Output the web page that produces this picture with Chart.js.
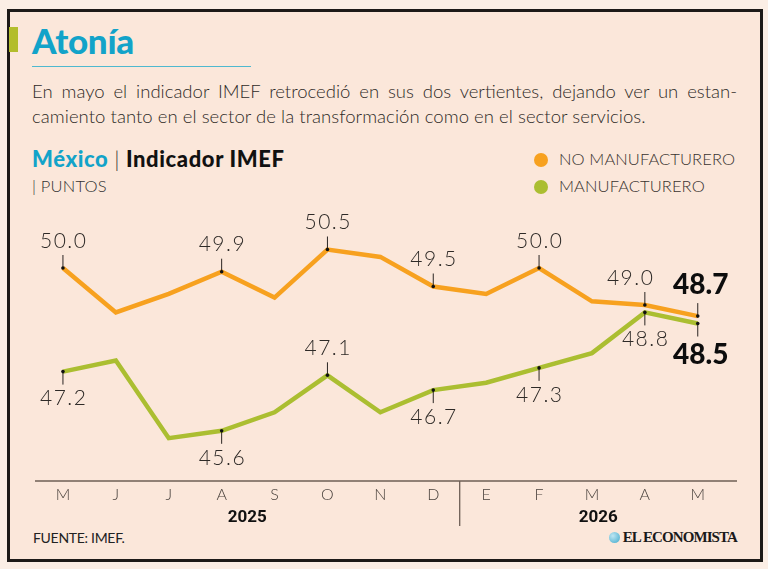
<!DOCTYPE html>
<html><head><meta charset="utf-8">
<script src="https://cdn.jsdelivr.net/npm/chart.js@4.4.1/dist/chart.umd.min.js"></script>
<style>
html,body{margin:0;padding:0;background:#fbeee5;width:768px;height:569px;overflow:hidden;}
#frame{position:absolute;left:7px;top:9px;width:750px;height:547px;border:3px solid #1d1a18;background:#fbe7da;}
.t{position:absolute;font-family:"Lato","Noto Sans",sans-serif;white-space:nowrap;}
#bar{position:absolute;left:9px;top:27px;width:9px;height:25px;background:#b3bd2c;}
#title{left:32px;top:19px;font-size:35px;font-weight:900;color:#12a3c9;letter-spacing:-0.3px;}
#uline{position:absolute;left:32px;top:66px;width:219px;height:1px;background:#4fb9cf;}
#sub1{left:32px;top:80px;width:705px;font-size:18.5px;font-weight:300;color:#2e2a27;text-align:justify;text-align-last:justify;}
#sub2{left:32px;top:105px;font-size:18.5px;font-weight:300;color:#2e2a27;letter-spacing:0.05px;}
#head{left:32px;top:145px;font-size:22px;font-weight:900;color:#111;letter-spacing:0.6px;}
#head .c{color:#12a3c9;}
#head .p{font-weight:300;color:#333;}
#unit{left:32px;top:176px;font-size:16.5px;font-weight:300;color:#333;letter-spacing:0.2px;}
.lg{font-size:16.5px;font-weight:300;color:#3a3430;left:559px;letter-spacing:0.1px;}
.dot{position:absolute;width:14px;height:14px;border-radius:50%;left:534px;}
#src{left:33px;top:529px;font-size:14px;font-weight:400;color:#222;letter-spacing:-0.3px;}
#logo{position:absolute;right:31px;top:529px;font-family:"Liberation Serif","DejaVu Serif",serif;font-weight:bold;font-size:15px;color:#1a1a1a;letter-spacing:-0.9px;white-space:nowrap;}
#globe{display:inline-block;width:11px;height:11px;border-radius:50%;background:radial-gradient(circle at 35% 35%,#bfe6f2,#3fa9cc);margin-right:3px;vertical-align:-1px;}
canvas{position:absolute;left:0;top:0;}
</style></head>
<body>
<div id="frame"></div>
<div id="bar"></div>
<div class="t" id="title">Atonía</div>
<div id="uline"></div>
<div class="t" id="sub1">En mayo el indicador IMEF retrocedió en sus dos vertientes, dejando ver un estan-</div>
<div class="t" id="sub2">camiento tanto en el sector de la transformación como en el sector servicios.</div>
<div class="t" id="head"><span class="c">México</span> <span class="p">|</span> Indicador IMEF</div>
<div class="t" id="unit">| PUNTOS</div>
<div class="dot" style="top:153px;background:#f7a11f"></div>
<div class="t lg" style="top:149px">NO MANUFACTURERO</div>
<div class="dot" style="top:180px;background:#abbe31"></div>
<div class="t lg" style="top:176px">MANUFACTURERO</div>
<div class="t" id="src">FUENTE: IMEF.</div>
<div id="logo"><span id="globe"></span>EL ECONOMISTA</div>
<canvas id="c" width="768" height="569"></canvas>
<script>
// ---- data ----
const months = ['M','J','J','A','S','O','N','D','E','F','M','A','M'];
const yearLabels = ['2025','2026'];
const yearBreakIndex = 8; // first month of 2026
const noManufacturero = [50.0, 48.8, 49.3, 49.9, 49.2, 50.5, 50.3, 49.5, 49.3, 50.0, 49.1, 49.0, 48.7];
const manufacturero   = [47.2, 47.5, 45.4, 45.6, 46.1, 47.1, 46.1, 46.7, 46.9, 47.3, 47.7, 48.8, 48.5];
// labelled points: [index, side(+1 above / -1 below), bold]
const noManufLabels = [[0,1,0],[3,1,0],[5,1,0],[7,1,0],[9,1,0],[11,1,0],[12,1,1]];
const manufLabels   = [[0,-1,0],[3,-1,0],[5,1,0],[7,-1,0],[9,-1,0],[11,-1,0],[12,-1,1]];

const ORANGE = '#f7a11f', GREEN = '#abbe31';

const deco = {
  id: 'deco',
  afterDatasetsDraw(chart) {
    const ctx = chart.ctx, xs = chart.scales.x, ys = chart.scales.y;
    ctx.save();
    const axisY = 481, axL = 35, axR = 737;
    ctx.strokeStyle = '#6e5f55'; ctx.lineWidth = 1.3;
    ctx.beginPath(); ctx.moveTo(axL, axisY); ctx.lineTo(axR, axisY); ctx.stroke();
    const divX = (xs.getPixelForValue(yearBreakIndex - 1) + xs.getPixelForValue(yearBreakIndex)) / 2;
    ctx.beginPath(); ctx.moveTo(divX, axisY); ctx.lineTo(divX, 526); ctx.stroke();
    ctx.fillStyle = '#4a423d'; ctx.textAlign = 'center'; ctx.textBaseline = 'middle';
    ctx.font = '300 16px Lato, "Noto Sans", sans-serif';
    months.forEach((m, i) => ctx.fillText(m, xs.getPixelForValue(i), 495));
    ctx.fillStyle = '#111';
    ctx.font = 'bold 17px "Liberation Sans Narrow", "Roboto", sans-serif';
    ctx.fillText(yearLabels[0], (axL + divX) / 2, 518);
    ctx.fillText(yearLabels[1], (divX + axR) / 2, 518);
    const drawLabels = (data, specs, shiftFor) => {
      specs.forEach(([i, side, bold]) => {
        const px = xs.getPixelForValue(i), py = ys.getPixelForValue(data[i]);
        ctx.strokeStyle = '#2a2522'; ctx.lineWidth = 1;
        ctx.beginPath(); ctx.moveTo(px, py); ctx.lineTo(px, py - side * 13); ctx.stroke();
        ctx.fillStyle = '#111';
        ctx.beginPath(); ctx.arc(px, py, 1.8, 0, Math.PI * 2); ctx.fill();
        const dx = shiftFor(i);
        if (bold) {
          ctx.font = '900 28px Lato, "Noto Sans", sans-serif';
          ctx.fillStyle = '#0d0d0d';
          ctx.letterSpacing = '0px';
          ctx.fillText(data[i].toFixed(1), px + dx, py - side * 31);
        } else {
          ctx.font = '300 21px Lato, "Noto Sans", sans-serif';
          ctx.fillStyle = '#2e2a27';
          ctx.letterSpacing = '1.5px';
          ctx.fillText(data[i].toFixed(1), px + dx + 0.75, py - side * 27);
          ctx.letterSpacing = '0px';
        }
      });
    };
    drawLabels(noManufacturero, noManufLabels, i => i === 11 ? -15 : (i === 12 ? 3 : 0));
    drawLabels(manufacturero, manufLabels, i => i === 12 ? 3 : 0);
    ctx.restore();
  }
};

new Chart(document.getElementById('c'), {
  type: 'line',
  data: {
    labels: months,
    datasets: [
      { label: 'NO MANUFACTURERO', data: noManufacturero, borderColor: ORANGE, borderWidth: 4.5, pointRadius: 0, tension: 0, borderJoinStyle: 'miter' },
      { label: 'MANUFACTURERO', data: manufacturero, borderColor: GREEN, borderWidth: 4.5, pointRadius: 0, tension: 0, borderJoinStyle: 'miter' }
    ]
  },
  options: {
    responsive: false, animation: false, devicePixelRatio: 1,
    layout: { padding: { left: 36.5, right: 43.8, top: 221.75, bottom: 88.25 } },
    plugins: { legend: { display: false }, tooltip: { enabled: false }, title: { display: false } },
    scales: {
      x: { type: 'category', offset: true, display: false },
      y: { type: 'linear', min: 44.25, max: 51.25, display: false }
    }
  },
  plugins: [deco]
});
</script>
</body></html>
